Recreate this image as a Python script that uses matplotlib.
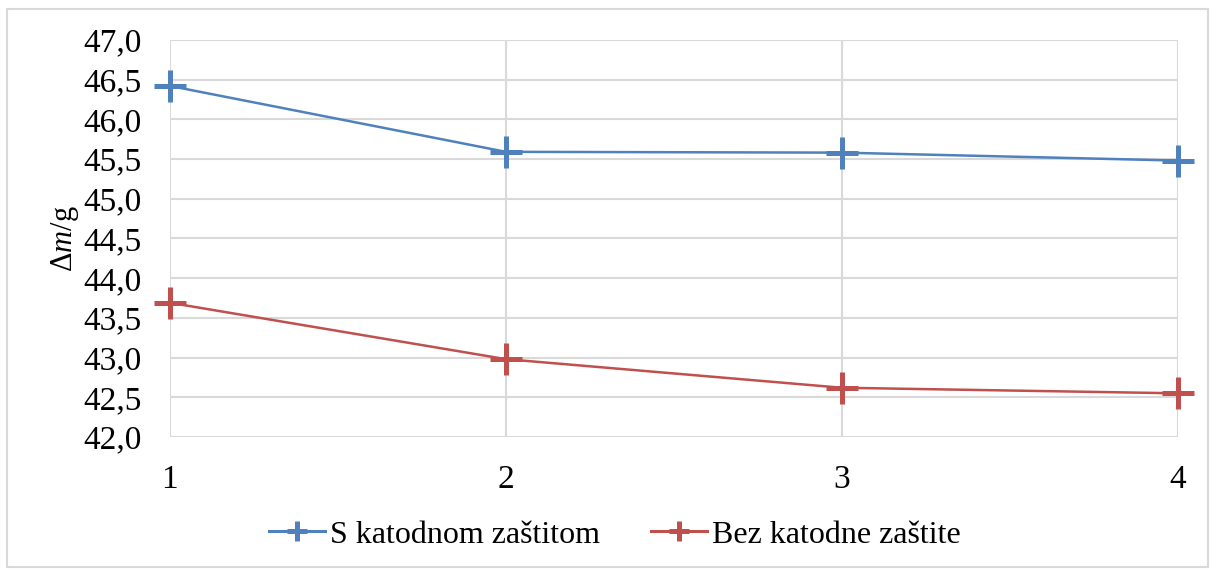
import matplotlib.pyplot as plt
from matplotlib.patches import Rectangle
from matplotlib.lines import Line2D
from matplotlib.ticker import MultipleLocator, FuncFormatter
from matplotlib import font_manager

names = sorted({f.name for f in font_manager.fontManager.ttflist})
serif = 'Liberation Serif' if 'Liberation Serif' in names else 'DejaVu Serif'
plt.rcParams['font.family'] = 'serif'
plt.rcParams['font.serif'] = [serif, 'DejaVu Serif']
plt.rcParams['mathtext.fontset'] = 'custom'
plt.rcParams['mathtext.it'] = serif + ':italic'
plt.rcParams['mathtext.rm'] = serif

x = [1, 2, 3, 4]
s_katodnom = [46.42, 45.59, 45.58, 45.48]
bez_katodne = [43.69, 42.98, 42.62, 42.55]
labels = ["S katodnom zaštitom", "Bez katodne zaštite"]
colors = ["#4f81bd", "#c0504d"]

fig = plt.figure(figsize=(12.13, 5.69), dpi=100)
ax = fig.add_axes([0.140, 0.232, 0.831, 0.698])

for vals, lab, col in zip([s_katodnom, bez_katodne], labels, colors):
    ax.plot(x, vals, color=col, lw=1.8, marker='+', markersize=23,
            markeredgewidth=3.6, label=lab, clip_on=False)

ax.set_xlim(1, 4)
ax.set_ylim(42.0, 47.0)
ax.set_xticks(x)
ax.yaxis.set_major_locator(MultipleLocator(0.5))
ax.yaxis.set_major_formatter(FuncFormatter(lambda v, p: f"{v:.1f}".replace('.', ',')))
ax.grid(True, color='#d9d9d9', lw=1.5)
ax.set_axisbelow(True)
for sp in ax.spines.values():
    sp.set_visible(False)
ax.tick_params(length=0, labelsize=24, colors='black')
ax.tick_params(axis='y', pad=20)
ax.tick_params(axis='x', pad=20)
ax.set_ylabel(r'$\Delta m$/g', fontsize=22, labelpad=2)

handles = [Line2D([], [], color=c, lw=2.2, marker='+', markersize=14,
                  markeredgewidth=3.6) for c in colors]
fig.legend(handles, labels, loc='center', bbox_to_anchor=(0.507, 0.06), ncol=2,
           frameon=False, fontsize=23, handlelength=1.75, columnspacing=1.6,
           handletextpad=0.15)

fig.patches.append(Rectangle((0.006, 0.004), 0.99, 0.98, transform=fig.transFigure,
                             fill=False, edgecolor='#d9d9d9', lw=1.5))

fig.savefig('out.png', dpi=100)
